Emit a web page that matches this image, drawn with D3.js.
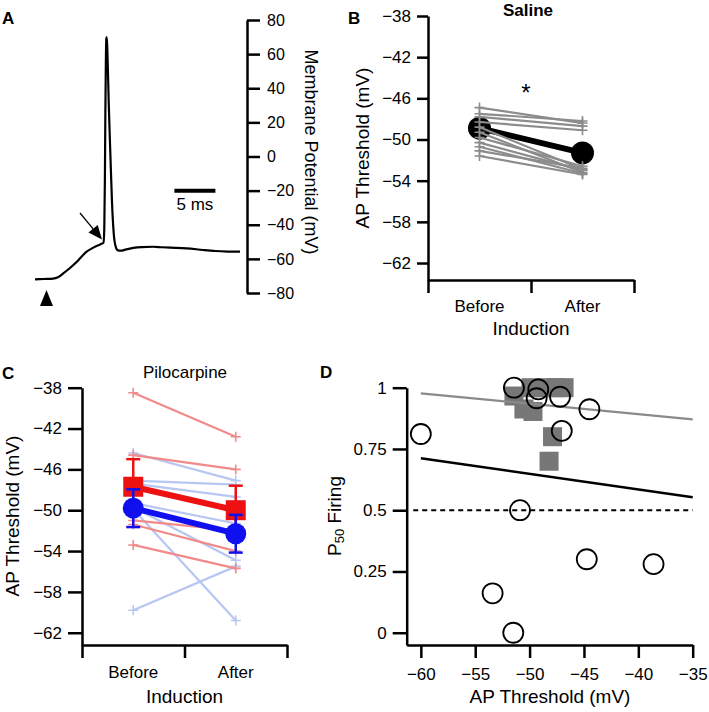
<!DOCTYPE html>
<html><head><meta charset="utf-8">
<script src="https://cdn.jsdelivr.net/npm/d3@7"></script>
<style>
body{margin:0;background:#fff}
svg{display:block;font-family:"Liberation Sans",Arial,sans-serif}
</style></head><body>
<svg id="fig" width="709" height="712"></svg>
<script>
// ---------- Panel A: example trace ----------
const traceTime = [0,1.1,2.2,2.8,3.45,4.3,5.1,5.7,6.3,6.9,7.5,8.0,8.35,8.45,8.52,8.58,8.64,8.7,8.76,8.85,9.0,9.2,9.4,9.6,9.85,10.1,10.5,11.0,12.0,13.0,14.4,15.5,16.5,18.5,20.5,22.0,23.5,25.0];
const traceVm   = [-72,-71.8,-71.6,-70.8,-68.5,-65.2,-61.7,-58.6,-55.8,-54,-52.5,-51.4,-50.5,-42,-15,25,55,69,70,58,30,0,-28,-45,-53,-55,-55.2,-54.6,-53.6,-53.1,-52.9,-53.2,-53.4,-53.8,-54.8,-55.4,-55.7,-55.8];
const vmTicks = [-80,-60,-40,-20,0,20,40,60,80];

// ---------- Panel B: saline ----------
const conditions = ["Before","After"];
const salineBefore = [-46.9,-47.5,-47.8,-48.3,-48.8,-49.3,-49.8,-50.3,-50.7,-51.1,-51.6];
const salineAfter  = [-48.4,-48.2,-48.7,-49.1,-52.9,-53.2,-52.6,-53.0,-53.3,-52.8,-53.4];
const salineMean = [-48.9,-51.3];
const thresholdTicks = [-38,-42,-46,-50,-54,-58,-62];

// ---------- Panel C: pilocarpine ----------
const redBefore = [-38.5,-44.6,-51.0,-51.4,-53.4];
const redAfter  = [-42.8,-46.0,-52.0,-54.0,-55.7];
const redMean = [-47.7,-50.0];
const redSem  = [2.7,2.4];
const blueBefore = [-44.4,-47.1,-47.4,-49.3,-49.7,-49.9,-59.8];
const blueAfter  = [-47.1,-47.5,-48.7,-51.3,-54.9,-60.8,-55.5];
const blueMean = [-49.8,-52.3];
const blueSem  = [1.85,1.85];

// ---------- Panel D: P50 vs threshold ----------
const sqThr = [-51.44,-49.87,-48.58,-47.57,-46.83,-50.52,-49.69,-47.89,-48.21];
const sqP50 = [0.966,1.0,1.0,1.0,1.0,0.913,0.903,0.80,0.70];
const ciThr = [-60.0,-51.44,-49.2,-49.35,-47.2,-44.5,-47.04,-50.88,-44.74,-38.6,-53.4,-51.5];
const ciP50 = [0.811,1.0,0.993,0.957,0.963,0.912,0.824,0.50,0.30,0.28,0.161,0.0];
const fitX = [-60,-35];
const fitSaline = [0.977,0.871];
const fitPilo = [0.712,0.553];
const chanceX = [-60.7,-35];
const chanceY = [0.5,0.5];
const dThrTicks = [-60,-55,-50,-45,-40,-35];
const dP50Ticks = [0,0.25,0.5,0.75,1];

const svg = d3.select("#fig");
function styleAxis(g, fs){
  g.attr("font-family",null).attr("font-size",fs);
  g.selectAll("path,line").attr("stroke","#000").attr("stroke-width",2.5);
  g.selectAll("text").attr("fill","#000");
}
function txt(g,x,y,s,o={}){
  const t=g.append("text").attr("x",x).attr("y",y).attr("font-size",o.size||17)
    .attr("text-anchor",o.anchor||"middle").attr("fill",o.fill||"#000").text(s);
  if(o.bold) t.attr("font-weight","bold");
  if(o.rotate!==undefined) t.attr("transform",`rotate(${o.rotate},${x},${y})`).attr("dominant-baseline","central");
  return t;
}
const crossPath = "M-5,0H5M0,-5V5";

// ===== Panel A =====
{
  const g = svg.append("g");
  const xT = d3.scaleLinear().domain([0,25]).range([35,240]);
  const yV = d3.scaleLinear().domain([-80,80]).range([293,20]);
  g.append("g").attr("transform","translate(247,0)")
    .call(d3.axisRight(yV).tickValues(vmTicks).tickSize(13).tickPadding(7).tickSizeOuter(0))
    .call(styleAxis,16);
  txt(g,311,152,"Membrane Potential (mV)",{size:18,rotate:90});
  const line = d3.line().x((d,i)=>xT(traceTime[i])).y(d=>yV(d)).curve(d3.curveMonotoneX);
  g.append("path").attr("d",line(traceVm)).attr("fill","none").attr("stroke","#000")
    .attr("stroke-width",2.2).attr("stroke-linejoin","round");
  // scale bar 5 ms at -20 mV
  g.append("line").attr("x1",xT(17)).attr("x2",xT(22)).attr("y1",yV(-20)).attr("y2",yV(-20))
    .attr("stroke","#000").attr("stroke-width",4);
  txt(g,xT(19.5),210,"5 ms",{size:17});
  // threshold arrow
  const tx=xT(8.17), ty=yV(-48.7), sx=xT(5.49), sy=yV(-33.1);
  const ang=Math.atan2(ty-sy,tx-sx), L=14, W=6;
  const bx=tx-L*Math.cos(ang), by=ty-L*Math.sin(ang);
  g.append("line").attr("x1",sx).attr("y1",sy).attr("x2",bx).attr("y2",by).attr("stroke","#000").attr("stroke-width",1.3);
  g.append("path").attr("d",`M${tx},${ty}L${bx+W*Math.sin(ang)},${by-W*Math.cos(ang)}L${bx-W*Math.sin(ang)},${by+W*Math.cos(ang)}Z`).attr("fill","#000");
  // stimulus triangle
  const ax=xT(1.4), ay=yV(-78.3);
  g.append("path").attr("d",`M${ax},${ay}L${ax+6.5},${ay+16}L${ax-6.5},${ay+16}Z`).attr("fill","#000");
  txt(g,2,24,"A",{size:17,bold:true,anchor:"start"});
}

// ===== paired panel helper =====
function pairedAxes(g, yS, x0, x1, yAxisY, tickLen){
  const xl = d3.scaleLinear().domain([0,2]).range([x0,x1]);
  g.append("g").attr("transform",`translate(${x0},0)`)
    .call(d3.axisLeft(yS).tickValues(thresholdTicks).tickSize(tickLen).tickPadding(6).tickSizeOuter(0))
    .call(styleAxis,17);
  g.append("g").attr("transform",`translate(0,${yAxisY})`)
    .call(d3.axisBottom(xl).tickValues([0,1,2]).tickFormat("").tickSize(13).tickSizeOuter(0))
    .call(styleAxis,17);
  return d3.scaleBand().domain(conditions).range([x0,x1]);
}
function pairs(g, xb, yS, bef, aft, color, w){
  const cx = c => xb(c)+xb.bandwidth()/2;
  bef.forEach((b,i)=>{
    g.append("line").attr("x1",cx("Before")).attr("x2",cx("After")).attr("y1",yS(b)).attr("y2",yS(aft[i]))
      .attr("stroke",color).attr("stroke-width",w);
    [[ "Before",b],["After",aft[i]]].forEach(([c,v])=>{
      g.append("path").attr("d",crossPath).attr("transform",`translate(${cx(c)},${yS(v)})`)
        .attr("stroke",color).attr("stroke-width",1.6).attr("fill","none");
    });
  });
}

// ===== Panel B =====
{
  const g = svg.append("g");
  const yB = d3.scaleLinear().domain([-63.65,-38]).range([280,16]);
  const xb = pairedAxes(g,yB,428,634,280,11);
  const cx = c => xb(c)+xb.bandwidth()/2;
  conditions.forEach(c=>txt(g,cx(c),312,c,{size:17}));
  txt(g,531,335,"Induction",{size:19});
  txt(g,362,148,"AP Threshold (mV)",{size:19,rotate:-90});
  txt(g,528,16,"Saline",{size:17,bold:true});
  txt(g,526,101,"*",{size:24});
  // mean
  g.append("line").attr("x1",cx("Before")).attr("x2",cx("After")).attr("y1",yB(salineMean[0])).attr("y2",yB(salineMean[1]))
    .attr("stroke","#000").attr("stroke-width",6);
  conditions.forEach((c,i)=>g.append("circle").attr("cx",cx(c)).attr("cy",yB(salineMean[i])).attr("r",11.5).attr("fill","#000"));
  pairs(g,xb,yB,salineBefore,salineAfter,"#8c8c8c",2.2);
  txt(g,348,24,"B",{size:17,bold:true,anchor:"start"});
}

// ===== Panel C =====
{
  const g = svg.append("g");
  const yC = d3.scaleLinear().domain([-63.2,-38]).range([645,387.7]);
  const xb = pairedAxes(g,yC,82,287,645,14);
  const cx = c => xb(c)+xb.bandwidth()/2;
  conditions.forEach(c=>txt(g,cx(c),678,c,{size:17}));
  txt(g,184.5,703,"Induction",{size:19});
  txt(g,12,516,"AP Threshold (mV)",{size:19,rotate:-90});
  txt(g,185,378,"Pilocarpine",{size:17});
  pairs(g,xb,yC,blueBefore,blueAfter,"#b7c6f2",2.2);
  pairs(g,xb,yC,redBefore,redAfter,"#f28a8a",2.2);
  function meanGroup(mean,sem,color,shape){
    conditions.forEach((c,i)=>{
      const x=cx(c), y0=yC(mean[i]-sem[i]), y1=yC(mean[i]+sem[i]);
      g.append("line").attr("x1",x).attr("x2",x).attr("y1",y0).attr("y2",y1).attr("stroke",color).attr("stroke-width",2.5);
      [y0,y1].forEach(y=>g.append("line").attr("x1",x-7).attr("x2",x+7).attr("y1",y).attr("y2",y).attr("stroke",color).attr("stroke-width",2.5));
    });
    g.append("line").attr("x1",cx("Before")).attr("x2",cx("After")).attr("y1",yC(mean[0])).attr("y2",yC(mean[1]))
      .attr("stroke",color).attr("stroke-width",6);
    conditions.forEach((c,i)=>{
      if(shape==="square") g.append("rect").attr("x",cx(c)-10).attr("y",yC(mean[i])-10).attr("width",20).attr("height",20).attr("fill",color);
      else g.append("circle").attr("cx",cx(c)).attr("cy",yC(mean[i])).attr("r",10.5).attr("fill",color);
    });
  }
  meanGroup(redMean,redSem,"#ee1111","square");
  meanGroup(blueMean,blueSem,"#1010ee","circle");
  txt(g,2,379,"C",{size:17,bold:true,anchor:"start"});
}

// ===== Panel D =====
{
  const g = svg.append("g");
  const xD = d3.scaleLinear().domain([-61.3,-35]).range([406.7,692.7]);
  const yD = d3.scaleLinear().domain([-0.05,1]).range([645,387.7]);
  g.append("g").attr("transform","translate(406.7,0)")
    .call(d3.axisLeft(yD).tickValues(dP50Ticks).tickFormat(d=>String(d)).tickSize(14).tickPadding(6).tickSizeOuter(0))
    .call(styleAxis,17);
  g.append("g").attr("transform","translate(0,645)")
    .call(d3.axisBottom(xD).tickValues(dThrTicks).tickSize(13).tickPadding(10).tickSizeOuter(0))
    .call(styleAxis,17);
  txt(g,550,703,"AP Threshold (mV)",{size:19});
  const yl = txt(g,334,516,"",{size:19,rotate:-90});
  yl.append("tspan").text("P");
  yl.append("tspan").attr("font-size",13).attr("dy",5).text("50");
  yl.append("tspan").attr("dy",-5).text(" Firing");
  // squares
  sqThr.forEach((t,i)=>g.append("rect").attr("x",xD(t)-9.5).attr("y",yD(sqP50[i])-9.5).attr("width",19).attr("height",19).attr("fill","#777"));
  const ln = d3.line().x((d,i)=>xD(fitX[i])).y(d=>yD(d));
  g.append("path").attr("d",ln(fitSaline)).attr("stroke","#8a8a8a").attr("stroke-width",2.2).attr("fill","none");
  g.append("path").attr("d",ln(fitPilo)).attr("stroke","#000").attr("stroke-width",2.5).attr("fill","none");
  const lc = d3.line().x((d,i)=>xD(chanceX[i])).y(d=>yD(d));
  g.append("path").attr("d",lc(chanceY)).attr("stroke","#000").attr("stroke-width",2).attr("stroke-dasharray","5,4").attr("fill","none");
  ciThr.forEach((t,i)=>g.append("circle").attr("cx",xD(t)).attr("cy",yD(ciP50[i])).attr("r",10).attr("fill","none").attr("stroke","#000").attr("stroke-width",1.8));
  txt(g,320,378,"D",{size:17,bold:true,anchor:"start"});
}
</script>
</body></html>
